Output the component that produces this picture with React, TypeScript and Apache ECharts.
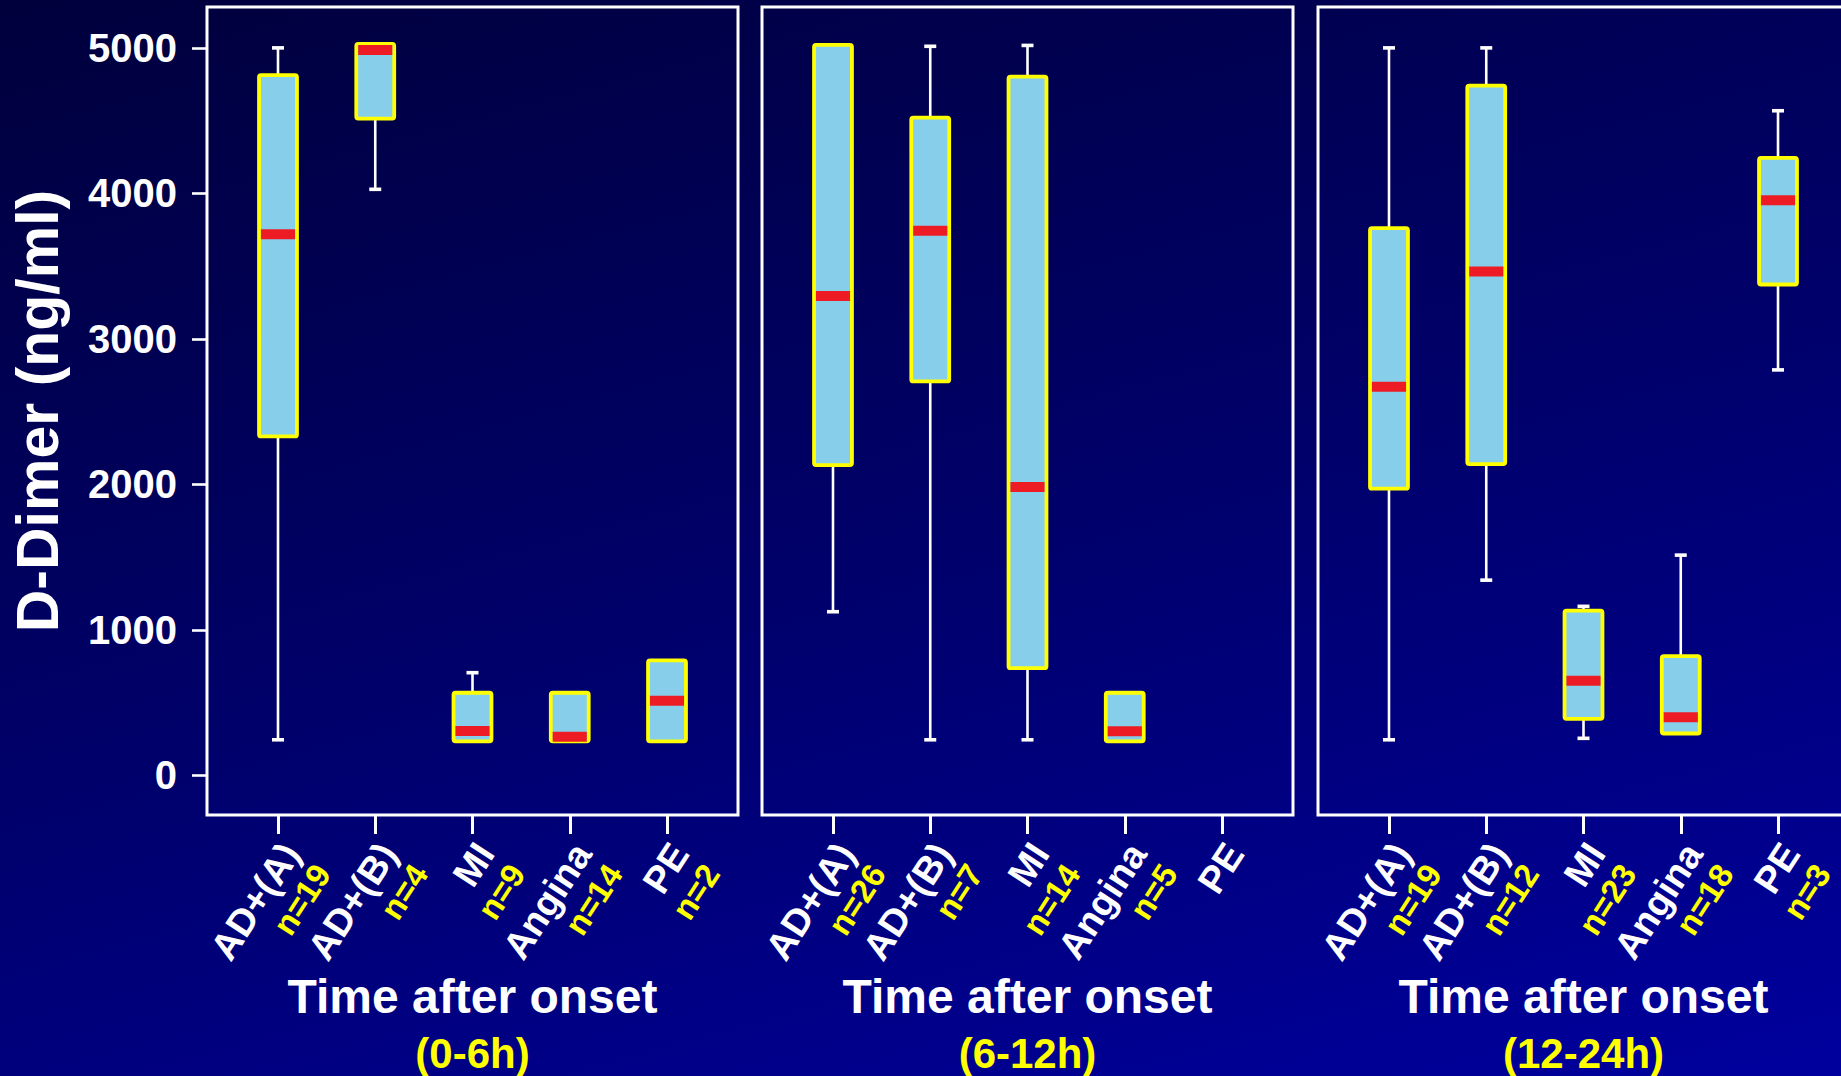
import React, { useEffect, useRef } from 'react';
import * as echarts from 'echarts';

// ---------- data ----------
const categories = ['AD+(A)', 'AD+(B)', 'MI', 'Angina', 'PE'];
const categoryPositions = [1, 2, 3, 4, 5];
const yTickValues = [0, 1000, 2000, 3000, 4000, 5000];
const periodLabels = ['(0-6h)', '(6-12h)', '(12-24h)'];
const axisTitle = 'Time after onset';
const yTitle = 'D-Dimer (ng/ml)';

const nCounts0to6 = ['n=19', 'n=4', 'n=9', 'n=14', 'n=2'];
const nCounts6to12 = ['n=26', 'n=7', 'n=14', 'n=5', ''];
const nCounts12to24 = ['n=19', 'n=12', 'n=23', 'n=18', 'n=3'];

// [min, q1, median, q3, max]; null = no data
const boxes0to6 = [
  [245, 2330, 3720, 4813, 5000],
  [4028, 4514, 4985, 5028, 5028],
  [234, 234, 305, 568, 706],
  [234, 234, 266, 568, 568],
  [234, 234, 514, 790, 790],
];
const boxes6to12 = [
  [1125, 2133, 3295, 5021, 5021],
  [245, 2708, 3744, 4521, 5011],
  [245, 737, 1982, 4802, 5017],
  [234, 234, 304, 568, 568],
  null,
];
const boxes12to24 = [
  [245, 1971, 2672, 3762, 5000],
  [1342, 2140, 3464, 4741, 5000],
  [255, 389, 651, 1133, 1162],
  [288, 288, 399, 820, 1514],
  [2787, 3374, 3953, 4244, 4568],
];

const panels = [
  { boxes: boxes0to6, counts: nCounts0to6, period: periodLabels[0] },
  { boxes: boxes6to12, counts: nCounts6to12, period: periodLabels[1] },
  { boxes: boxes12to24, counts: nCounts12to24, period: periodLabels[2] },
];

// ---------- style ----------
const FONT = '"Liberation Sans", Arial, Helvetica, sans-serif';
const GRID_LEFTS = [207, 762, 1318];
const GRID_TOP = 7;
const GRID_W = 531;
const GRID_H = 808;
const X_MIN = 0.27;
const X_MAX = 5.73;
const Y_MIN = -272;
const Y_MAX = 5281;
const LABEL_SHIFT = 0.29;
const BOX_W = 0.39;

function renderBox(params: any, api: any) {
  const x = api.value(0);
  const lo = api.value(1);
  const q1 = api.value(2);
  const med = api.value(3);
  const q3 = api.value(4);
  const hi = api.value(5);
  const pLo = api.coord([x, lo]);
  const pQ1 = api.coord([x, q1]);
  const pMed = api.coord([x, med]);
  const pQ3 = api.coord([x, q3]);
  const pHi = api.coord([x, hi]);
  const bw = api.size([BOX_W, 0])[0];
  const cx = pMed[0];
  const capW = 12;
  const white = { stroke: '#ffffff', lineWidth: 2.6 };
  const children: any[] = [];
  if (hi > q3) {
    children.push({ type: 'line', shape: { x1: cx, y1: pHi[1], x2: cx, y2: pQ3[1] }, style: white });
    children.push({
      type: 'line',
      shape: { x1: cx - capW / 2, y1: pHi[1], x2: cx + capW / 2, y2: pHi[1] },
      style: { stroke: '#ffffff', lineWidth: 3.6 },
    });
  }
  if (lo < q1) {
    children.push({ type: 'line', shape: { x1: cx, y1: pQ1[1], x2: cx, y2: pLo[1] }, style: white });
    children.push({
      type: 'line',
      shape: { x1: cx - capW / 2, y1: pLo[1], x2: cx + capW / 2, y2: pLo[1] },
      style: { stroke: '#ffffff', lineWidth: 3.6 },
    });
  }
  children.push({
    type: 'rect',
    shape: { x: cx - bw / 2, y: pQ3[1], width: bw, height: pQ1[1] - pQ3[1], r: 2 },
    style: { fill: '#87CEEB', stroke: '#FFFF00', lineWidth: 3.8 },
  });
  children.push({
    type: 'rect',
    shape: { x: cx - bw / 2 + 1.9, y: pMed[1] - 5, width: bw - 3.8, height: 10 },
    style: { fill: '#ED1C24' },
  });
  return { type: 'group', children };
}

export default function App() {
  const ref = useRef<HTMLDivElement>(null);

  useEffect(() => {
    if (!ref.current) return;
    const chart = echarts.init(ref.current, null, { renderer: 'svg' });

    const grid = GRID_LEFTS.map((left) => ({
      left,
      top: GRID_TOP,
      width: GRID_W,
      height: GRID_H,
      show: true,
      borderColor: '#ffffff',
      borderWidth: 3,
      backgroundColor: 'transparent',
      containLabel: false,
      outerBoundsMode: 'none',
    }));

    const xAxis = panels.map((p, i) => ({
      type: 'value',
      gridIndex: i,
      position: 'bottom',
      min: X_MIN,
      max: X_MAX,
      axisLine: { show: false, onZero: false },
      splitLine: { show: false },
      axisTick: {
        show: true,
        customValues: categoryPositions,
        length: 19,
        inside: false,
        lineStyle: { color: '#ffffff', width: 3 },
      },
      axisLabel: {
        show: true,
        customValues: categoryPositions.map((v) => v + LABEL_SHIFT),
        rotate: 57,
        margin: 42,
        formatter: (v: number) => {
          const idx = Math.round(v - LABEL_SHIFT) - 1;
          const n = p.counts[idx] || ' ';
          return '{a|' + categories[idx] + '}\n{b|' + n + '}';
        },
        rich: {
          a: { color: '#ffffff', fontSize: 38, fontWeight: 'bold', fontFamily: FONT, lineHeight: 39, align: 'right' },
          b: { color: '#FFFF00', fontSize: 33, fontWeight: 'bold', fontFamily: FONT, lineHeight: 37, align: 'right' },
        },
      },
      name: '{t|' + axisTitle + '}\n{s|' + p.period + '}',
      nameLocation: 'middle',
      nameGap: 151,
      nameMoveOverlap: false,
      nameTextStyle: {
        rich: {
          t: { color: '#ffffff', fontSize: 48, fontWeight: 'bold', fontFamily: FONT, lineHeight: 60 },
          s: { color: '#FFFF00', fontSize: 42, fontWeight: 'bold', fontFamily: FONT, lineHeight: 54 },
        },
      },
    }));

    const yAxis = panels.map((p, i) => ({
      type: 'value',
      gridIndex: i,
      min: Y_MIN,
      max: Y_MAX,
      show: i === 0,
      axisLine: { show: false },
      splitLine: { show: false },
      axisTick: {
        show: true,
        customValues: yTickValues,
        length: 15,
        lineStyle: { color: '#ffffff', width: 2.6 },
      },
      axisLabel: {
        show: true,
        customValues: yTickValues,
        margin: 30,
        color: '#ffffff',
        fontSize: 40,
        fontWeight: 'bold',
        fontFamily: FONT,
        formatter: (v: number) => String(Math.round(v)),
      },
      name: i === 0 ? yTitle : '',
      nameLocation: 'middle',
      nameGap: 139,
      nameMoveOverlap: false,
      nameTextStyle: {
        color: '#ffffff',
        fontSize: 59,
        fontWeight: 'bold',
        fontFamily: FONT,
        lineHeight: 60,
      },
    }));

    const series = panels.map((p, i) => ({
      type: 'custom',
      xAxisIndex: i,
      yAxisIndex: i,
      clip: false,
      renderItem: renderBox,
      data: p.boxes
        .map((b, k) => (b ? [categoryPositions[k], ...b] : null))
        .filter((d) => d !== null),
    }));

    chart.setOption({
      animation: false,
      backgroundColor: 'transparent',
      grid,
      xAxis,
      yAxis,
      series,
    } as any);

    return () => chart.dispose();
  }, []);

  return (
    <div
      ref={ref}
      style={{
        position: 'fixed',
        left: 0,
        top: 0,
        width: 1841,
        height: 1076,
        background: 'linear-gradient(165deg, #00003c 0%, #00006a 50%, #00009e 100%)',
      }}
    />
  );
}
